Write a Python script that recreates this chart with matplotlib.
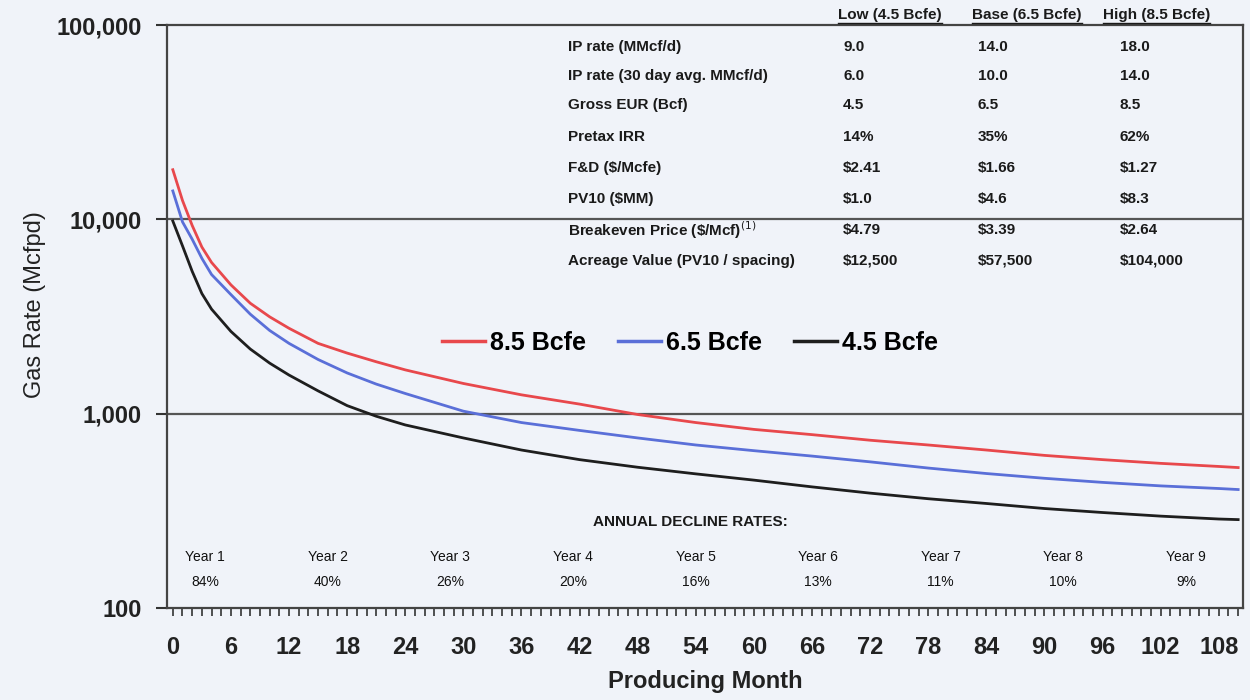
import matplotlib
matplotlib.use("Agg")
import matplotlib.pyplot as plt
from matplotlib.ticker import FixedLocator, FuncFormatter, MultipleLocator

plt.rcParams['font.family'] = ['Liberation Sans', 'DejaVu Sans']

# type curves (month, Mcfpd)
months = [0, 1, 2, 3, 4, 6, 8, 10, 12, 15, 18, 21, 24, 30, 36, 42, 48, 54,
          60, 66, 72, 78, 84, 90, 96, 102, 108, 110]
high_85 = [18000, 12500, 9300, 7200, 6000, 4600, 3700, 3150, 2750, 2300, 2050, 1850, 1680,
           1430, 1250, 1120, 990, 900, 830, 780, 730, 690, 650, 610, 580, 555, 535, 528]
base_65 = [14000, 9700, 7900, 6300, 5200, 4100, 3250, 2680, 2300, 1900, 1620, 1420, 1270,
           1030, 900, 820, 750, 690, 645, 605, 565, 525, 492, 465, 443, 425, 412, 407]
low_45 = [9800, 7300, 5400, 4150, 3450, 2650, 2150, 1820, 1580, 1310, 1100, 970, 875,
          750, 650, 580, 530, 490, 455, 420, 390, 365, 345, 325, 310, 297, 287, 285]

series_names = ['8.5 Bcfe', '6.5 Bcfe', '4.5 Bcfe']
series_colors = ['#e8484c', '#5a6fd8', '#1e1e1e']

# economics table
col_heads = ['Low (4.5 Bcfe)', 'Base (6.5 Bcfe)', 'High (8.5 Bcfe)']
row_names = ['IP rate (MMcf/d)', 'IP rate (30 day avg. MMcf/d)', 'Gross EUR (Bcf)',
             'Pretax IRR', 'F&D ($/Mcfe)', 'PV10 ($MM)',
             'Breakeven Price ($/Mcf)$^{(1)}$', 'Acreage Value (PV10 / spacing)']
low_vals = ['9.0', '6.0', '4.5', '14%', '$2.41', '$1.0', '$4.79', '$12,500']
base_vals = ['14.0', '10.0', '6.5', '35%', '$1.66', '$4.6', '$3.39', '$57,500']
high_vals = ['18.0', '14.0', '8.5', '62%', '$1.27', '$8.3', '$2.64', '$104,000']

years = ['Year 1', 'Year 2', 'Year 3', 'Year 4', 'Year 5', 'Year 6', 'Year 7', 'Year 8', 'Year 9']
declines = ['84%', '40%', '26%', '20%', '16%', '13%', '11%', '10%', '9%']

bg = '#f0f3f9'
W, H = 1250, 700
fig = plt.figure(figsize=(12.5, 7), dpi=100, facecolor=bg)
ax = fig.add_axes([167 / W, 1 - 608 / H, (1243 - 167) / W, (608 - 25) / H])
ax.set_facecolor(bg)

for vals, name, col in zip([high_85, base_65, low_45], series_names, series_colors):
    ax.plot(months, vals, color=col, lw=2.0, label=name, zorder=3)

ax.set_yscale('log')
ax.set_ylim(100, 100000)
ax.set_xlim(-0.6, 110.5)
ax.yaxis.set_major_locator(FixedLocator([100, 1000, 10000, 100000]))
ax.yaxis.set_minor_locator(FixedLocator([]))
ax.yaxis.set_major_formatter(FuncFormatter(lambda v, p: f'{int(v):,}'))
ax.xaxis.set_major_locator(MultipleLocator(6))
ax.xaxis.set_minor_locator(MultipleLocator(1))
ax.tick_params(axis='y', which='major', length=8, width=1.5, color='#333333', pad=10,
               labelsize=17)
ax.tick_params(axis='x', which='both', length=6, width=1.2, color='#333333', pad=14,
               labelsize=17)
for lab in ax.get_xticklabels() + ax.get_yticklabels():
    lab.set_fontweight('bold')
    lab.set_color('#222222')

for v in [1000, 10000]:
    ax.axhline(v, color='#555555', lw=1.6, zorder=2)
for s in ax.spines.values():
    s.set_color('#444444')
    s.set_linewidth(1.6)

ax.set_xlabel('Producing Month', fontsize=17, fontweight='bold', color='#222222', labelpad=8)
ax.set_ylabel('Gas Rate (Mcfpd)', fontsize=17, color='#222222', labelpad=8)
ax.yaxis.set_label_coords(-0.112, 0.52)

leg = ax.legend(loc='center', bbox_to_anchor=(0.486, 0.455), ncol=3, frameon=False,
                handlelength=1.7, handletextpad=0.2, columnspacing=1.3,
                prop={'size': 18, 'weight': 'bold'})
for line in leg.get_lines():
    line.set_linewidth(2.5)

# economics table
def fx(x):
    return x / W

def fy(y):
    return 1 - y / H

tfont = dict(fontsize=11, fontweight='bold', color='#1a1a1a', va='center')
col_x = [843, 978, 1120]
head_x = [838, 972, 1103]
for hx, head in zip(head_x, col_heads):
    fig.text(fx(hx), fy(15), head, ha='left', **tfont)
row_y = [47, 76, 105, 137, 168, 199, 230, 261]
for ry, name, a, b, c in zip(row_y, row_names, low_vals, base_vals, high_vals):
    fig.text(fx(568), fy(ry), name.replace('$', r'\$').replace(r'\$^{(1)}\$', '$^{(1)}$'),
             ha='left', **tfont)
    for cx, v in zip(col_x, [a, b, c]):
        fig.text(fx(cx), fy(ry), v.replace('$', r'\$'), ha='left', **tfont)

# underline the column heads
fig.canvas.draw()
rend = fig.canvas.get_renderer()
for t in fig.texts[:3]:
    bb = t.get_window_extent(rend)
    fig.add_artist(plt.Line2D([bb.x0 / W, bb.x1 / W], [bb.y0 / H - 0.002, bb.y0 / H - 0.002],
                              color='#1a1a1a', lw=1.0, transform=fig.transFigure))

# annual decline rates
ax.text(0.486, 0.148, 'ANNUAL DECLINE RATES:', transform=ax.transAxes, ha='center',
        va='center', fontsize=11, fontweight='bold', color='#1a1a1a')
for i, (yr, dc) in enumerate(zip(years, declines)):
    xx = 0.0353 + i * (0.947 - 0.0353) / 8
    ax.text(xx, 0.0875, yr, transform=ax.transAxes, ha='center', va='center',
            fontsize=10, color='#111111')
    ax.text(xx, 0.045, dc, transform=ax.transAxes, ha='center', va='center',
            fontsize=10, color='#111111')

fig.savefig('out.png', dpi=100, facecolor=bg)
